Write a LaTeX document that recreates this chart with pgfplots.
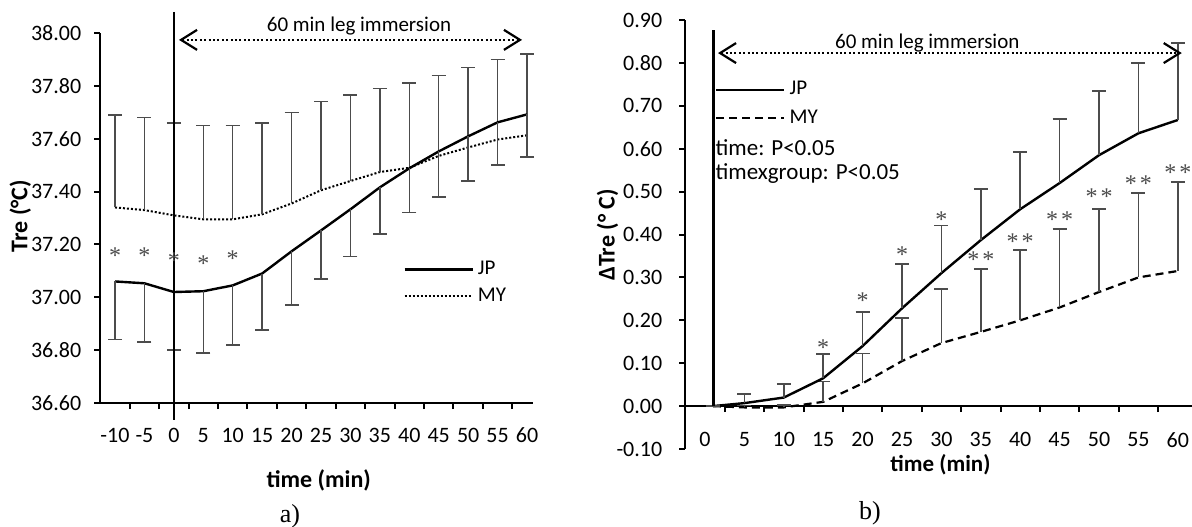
\documentclass[border=0pt]{standalone}
\usepackage{fontspec}
\setmainfont{Carlito}
\newfontfamily\seriff{Liberation Serif}
\usepackage{pgfplots}
\pgfplotsset{compat=1.18}
\usetikzlibrary{arrows.meta}

\definecolor{BARC}{gray}{0.3}
\newcommand{\tickfont}{\fontsize{11}{13}\selectfont}

\pgfplotsset{
  excel/.style={
    scale only axis,
    clip=false,
    axis line style={line width=1pt, black},
    tick style={line width=1pt, black},
    major tick length=3pt,
    tick align=outside,
    tick label style={font=\tickfont},
    label style={font=\bfseries\fontsize{12}{14}\selectfont},
    legend image code/.code={\draw[##1] (0pt,0pt) -- (34pt,0pt);},
    legend style={draw=none, fill=none, font=\fontsize{10.5}{12}\selectfont, inner sep=0pt, row sep=1pt},
    legend cell align=left,
  },
  ebar/.style={
    /pgfplots/error bars/y dir=#1,
    /pgfplots/error bars/y explicit,
    /pgfplots/error bars/error bar style={solid, BARC, line width=0.75pt},
    /pgfplots/error bars/error mark options={solid, rotate=90, BARC, mark size=3.5pt, line width=0.75pt},
  },
  stars/.style={draw=none, forget plot, nodes near coords={#1},
    every node near coord/.style={font=\seriff\fontsize{12}{13}\selectfont, text=BARC, anchor=center, inner sep=0pt}},
  immersion/.style={dash pattern=on 1pt off 1.2pt, line width=0.8pt,
    {Straight Barb[length=8pt, width=10pt, line width=1.1pt]}-{Straight Barb[length=8pt, width=10pt, line width=1.1pt]}},
}

\begin{document}
\begin{tikzpicture}

% ---------------- a) ----------------
\begin{axis}[excel,
  at={(50.15pt,-201.5pt)}, anchor=south west,
  width=216.3pt, height=185pt,
  xmin=-12.5, xmax=61, ymin=36.6, ymax=38.0,
  axis lines*=left,
  xtick={-7.5,-2.5,2.5,7.5,12.5,17.5,22.5,27.5,32.5,37.5,42.5,47.5,52.5,57.5},
  xticklabels={},
  extra x ticks={-10,-5,0,5,10,15,20,25,30,35,40,45,50,55,60},
  extra x tick labels={-10,-5,0,5,10,15,20,25,30,35,40,45,50,55,60},
  extra x tick style={major tick length=0pt, xticklabel style={yshift=-9pt}},
  ytick={36.6,36.8,37.0,37.2,37.4,37.6,37.8,38.0},
  yticklabels={36.60,36.80,37.00,37.20,37.40,37.60,37.80,38.00},
  yticklabel style={xshift=-3pt},
  ylabel={Tre (°C)},
  ylabel style={at={(axis description cs:-0.185,0.505)}, anchor=center},
  xlabel={time (min)},
  xlabel style={at={(axis description cs:0.505,-0.208)}, anchor=center},
  legend style={at={(axis description cs:0.70,0.395)}, anchor=north west},
]
% MY (mean + SD)
\addplot[black, dash pattern=on 1pt off 1pt, line width=1pt, forget plot, ebar=plus] coordinates {
(-10,37.34) +- (0,0.35)
(-5,37.33) +- (0,0.35)
(0,37.31) +- (0,0.35)
(5,37.295) +- (0,0.355)
(10,37.295) +- (0,0.355)
(15,37.314) +- (0,0.346)
(20,37.355) +- (0,0.345)
(25,37.405) +- (0,0.335)
(30,37.44) +- (0,0.325)
(35,37.474) +- (0,0.316)
(40,37.49) +- (0,0.32)
(45,37.535) +- (0,0.305)
(50,37.567) +- (0,0.303)
(55,37.597) +- (0,0.303)
(60,37.613) +- (0,0.307)
};
% JP (mean - SD)
\addplot[black, line width=1.2pt, forget plot, ebar=minus] coordinates {
(-10,37.06) +- (0,0.22)
(-5,37.053) +- (0,0.223)
(0,37.02) +- (0,0.22)
(5,37.023) +- (0,0.233)
(10,37.045) +- (0,0.225)
(15,37.09) +- (0,0.213)
(20,37.174) +- (0,0.204)
(25,37.253) +- (0,0.183)
(30,37.333) +- (0,0.178)
(35,37.416) +- (0,0.176)
(40,37.488) +- (0,0.168)
(45,37.552) +- (0,0.172)
(50,37.609) +- (0,0.169)
(55,37.662) +- (0,0.162)
(60,37.692) +- (0,0.162)
};
\addplot[stars={*}] coordinates {(-10,37.158) (-5,37.158) (0,37.139) (5,37.127) (10,37.146)};
% start of immersion
\addplot[black, line width=1.3pt, forget plot] coordinates {(0,38.08) (0,36.536)};
\addplot[black, immersion, forget plot] coordinates {(0.87,37.974) (59.15,37.974)};
\node[font=\fontsize{10.5}{12}\selectfont] at (axis cs:31.45,38.026) {60 min leg immersion};
\addlegendimage{black, line width=1.2pt}
\addlegendentry{JP}
\addlegendimage{black, dash pattern=on 1pt off 1pt, line width=0.8pt}
\addlegendentry{MY}
\end{axis}

% ---------------- b) ----------------
\begin{axis}[excel,
  at={(342.65pt,-224.5pt)}, anchor=south west,
  width=254.15pt, height=214.5pt,
  xmin=-2.5, xmax=62, ymin=-0.1, ymax=0.9,
  axis x line*=middle, axis y line*=left,
  hide obscured x ticks=false, hide obscured y ticks=false,
  xtick={2.5,7.5,12.5,17.5,22.5,27.5,32.5,37.5,42.5,47.5,52.5,57.5},
  xticklabels={},
  extra x ticks={0,5,10,15,20,25,30,35,40,45,50,55,60},
  extra x tick labels={0,5,10,15,20,25,30,35,40,45,50,55,60},
  extra x tick style={major tick length=0pt, xticklabel style={yshift=-9.5pt}},
  ytick={-0.1,0,0.1,0.2,0.3,0.4,0.5,0.6,0.7,0.8,0.9},
  yticklabels={-0.10,0.00,0.10,0.20,0.30,0.40,0.50,0.60,0.70,0.80,0.90},
  yticklabel style={xshift=-5pt},
  ylabel={ΔTre (° C)},
  ylabel style={at={(axis description cs:-0.153,0.499)}, anchor=center},
  xlabel={time (min)},
  xlabel style={at={(axis description cs:0.502,-0.037)}, anchor=center, font=\bfseries\fontsize{11.5}{13}\selectfont},
  legend style={at={(axis description cs:0.058,0.867)}, anchor=north west, row sep=2pt},
]
% MY (mean + SD)
\addplot[black, dash pattern=on 4pt off 2.5pt, line width=1.1pt, forget plot, ebar=plus] coordinates {
(1,0) +- (0,0)
(5,-0.003) +- (0,0.005)
(10,-0.003) +- (0,0.006)
(15,0.01) +- (0,0.047)
(20,0.053) +- (0,0.07)
(25,0.105) +- (0,0.10)
(30,0.147) +- (0,0.126)
(35,0.173) +- (0,0.147)
(40,0.20) +- (0,0.164)
(45,0.23) +- (0,0.183)
(50,0.266) +- (0,0.194)
(55,0.30) +- (0,0.197)
(60,0.315) +- (0,0.208)
};
% JP (mean + SD)
\addplot[black, line width=1.2pt, forget plot, ebar=plus] coordinates {
(1,0) +- (0,0)
(5,0.007) +- (0,0.021)
(10,0.02) +- (0,0.031)
(15,0.065) +- (0,0.056)
(20,0.14) +- (0,0.079)
(25,0.228) +- (0,0.103)
(30,0.31) +- (0,0.111)
(35,0.387) +- (0,0.119)
(40,0.459) +- (0,0.133)
(45,0.52) +- (0,0.149)
(50,0.585) +- (0,0.149)
(55,0.636) +- (0,0.164)
(60,0.667) +- (0,0.179)
};
\addplot[stars={*}] coordinates {(15,0.137) (20,0.247) (25,0.352) (30,0.435)};
\addplot[stars={*\kern1.5pt*}] coordinates {(35,0.342) (40,0.384) (45,0.435) (50,0.489) (55,0.519) (60,0.545)};
\addplot[black, line width=1.2pt, forget plot] coordinates {(1.1,0.876) (1.1,0)};
\addplot[black, immersion, forget plot] coordinates {(1.65,0.823) (60.5,0.823)};
\node[font=\fontsize{10.5}{12}\selectfont] at (axis cs:28.2,0.846) {60 min leg immersion};
\node[font=\fontsize{11.5}{13}\selectfont, anchor=west, inner sep=0pt] at (axis cs:1.3,0.602) {time: P<0.05};
\node[font=\fontsize{11.5}{13}\selectfont, anchor=west, inner sep=0pt] at (axis cs:1.3,0.543) {timexgroup: P<0.05};
\addlegendimage{black, line width=1.2pt}
\addlegendentry{JP}
\addlegendimage{black, dash pattern=on 4pt off 2.5pt, line width=1.1pt}
\addlegendentry{MY}
\end{axis}

\node[font=\seriff\fontsize{13}{15}\selectfont] at (145pt,-258pt) {a)};
\node[font=\seriff\fontsize{13}{15}\selectfont] at (435pt,-256.5pt) {b)};

\pgfresetboundingbox
\path[use as bounding box] (0,0) rectangle (596pt,-263pt);
\end{tikzpicture}
\end{document}
